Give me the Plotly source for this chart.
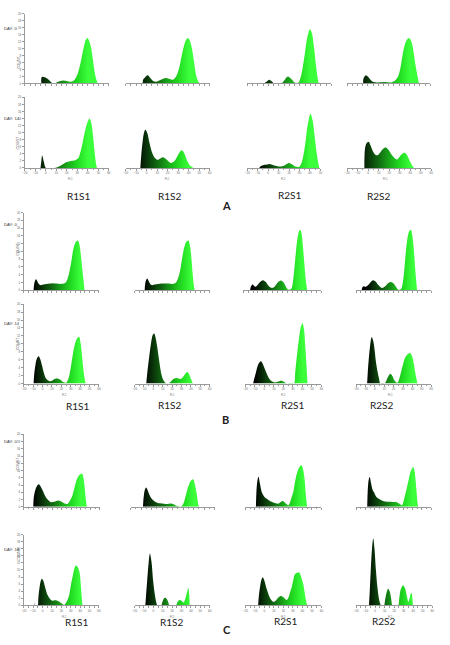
import plotly.graph_objects as go

# ---------------- data (x = FL1 value, y = COUNT) ----------------
SAMPLES = ["R1S1", "R1S2", "R2S1", "R2S2"]
DAYS = ["DAY: 0", "DAY: 14"]
PANELS = ["A", "B", "C"]
X_TITLE = "FL1"
X_RANGE = [-20, 60]
X_RANGE_SHORT = [-20, 50]   # panel A, day 14, R2S1 axis stops at 50
Y_RANGE = [0, 20]

# Panel A, day 0
A0_R1S1 = [(-4.2,0),(-3.8,1.9),(-1,1.8),(2,1.3),(4,0.7),(6,0.15),(9,0.1),(12,0.5),(16.5,0.85),(20,0.7),(24,0.5),(27,0.9),(30,2.5),(32,4.5),(34,7.2),(36,10.2),(38,12.5),(39.6,13.1),(41,12.5),(43,10.5),(45,6.5),(47,2.5),(48.5,0.8),(49.6,0)]
A0_R1S2 = [(-3.8,0),(-3.4,1.1),(-2,1.6),(1,2.4),(3.5,1.6),(6,0.8),(9,0.5),(13,1.0),(18.4,1.6),(22,1.3),(25,1.1),(28,2.0),(31,4.5),(33,7.5),(35.5,10.8),(37.5,12.6),(39.4,13.1),(41,12.4),(43,10.2),(45,6.5),(47,2.5),(48.5,1.0),(49.7,0.3),(50.5,0)]
A0_R2S1 = [(-4,0),(-2,0.4),(1,1.1),(3.5,0.6),(5.5,0),(12,0),(14.5,0.6),(18.6,2.0),(22,1.3),(25.5,0.2),(28.5,0.2),(31,2.0),(33,5),(35,9),(37,13),(39.6,15.6),(41.5,14.5),(43.5,10.5),(45.5,5),(47,1.5),(48,0)]
A0_R2S2 = [(-4.6,0),(-4.2,1.5),(-2,2.4),(0,2.0),(2.5,1.1),(5.5,0.4),(10,0.3),(16,0.4),(22,0.3),(26,0.8),(29,2.0),(31,4),(33,7.5),(35,10.5),(37.5,12.6),(39.8,13.1),(42,12),(44,9),(46,5),(48,1.8),(49.2,0)]
# Panel A, day 14
A14_R1S1 = [(-5,0),(-4,2.5),(-3.5,3.6),(-2,2.0),(-0.5,0.3),(0.5,0),(8,0),(11,0.2),(14,0.6),(17,1.2),(20,1.7),(24,2.0),(28,2.2),(31,2.8),(33,4.5),(35,7),(37,10),(39.5,12.8),(41.7,14.0),(43.5,12.5),(45,9),(46.5,4.5),(47.8,1.2),(48.7,0)]
A14_R1S2 = [(-6,0),(-5.3,3),(-4,7),(-2.5,10),(-1.2,10.8),(0.5,10),(2.8,7),(5,4.5),(7.5,3),(10.6,2.3),(13,2.7),(16,3.0),(19,2.4),(23,1.4),(26,1.8),(29,3.2),(31.5,4.5),(33.4,5.0),(35.5,4.4),(38,2.5),(40.5,1.0),(42.5,0.4),(44.4,0)]
A14_R2S1 = [(-8.5,0),(-8,0.3),(-5,0.8),(-1,1.0),(1.3,1.1),(5,0.8),(9,0.5),(12,0.4),(16,0.8),(19.8,1.4),(23,1.0),(26,0.4),(29.5,0.3),(32,1.5),(34,4),(36,8),(38,12.5),(40.5,15.4),(42.5,13.5),(44.5,9),(46.5,4),(48,1.2),(49,0)]
A14_R2S2 = [(-3.6,0),(-3,5.5),(-1.5,7.0),(0.5,7.4),(2.5,6.2),(4.9,4.5),(7,3.7),(9,3.6),(12,4.6),(14.5,5.5),(16.9,5.8),(19.5,5.1),(23,3.5),(27.2,2.4),(30,3.2),(32.5,4.0),(34.8,4.3),(37,3.7),(39,2.4),(41,1.2),(42.5,0.4),(43.6,0)]
# Panel B, day 0
B0_R1S1 = [(-9.5,0),(-9,1.5),(-7.8,2.6),(-6.8,2.8),(-5,2.0),(-3,1.4),(-1.6,1.3),(1,1.45),(4,1.6),(8,1.7),(11,1.8),(15,1.7),(19,1.6),(22.8,1.7),(25,2.1),(27,3.2),(29,5.2),(31,8),(33,10.8),(35.5,12.5),(37.7,12.8),(39.5,11.5),(41,8.5),(42.5,5),(43.8,2),(44.7,0)]
B0_R1S2 = [(-9.2,0),(-8.7,1.6),(-7.5,2.7),(-6.4,3.0),(-4.5,2.1),(-2.5,1.4),(-1.2,1.3),(1.5,1.45),(5,1.6),(9,1.7),(13,1.75),(17,1.7),(20,1.6),(22.4,1.7),(24.5,2.1),(26.5,3.2),(28.5,5),(30.5,8),(32.9,11),(35.2,12.5),(37.4,12.8),(39,11.5),(40.5,8.5),(41.8,4.5),(43,1.5),(44,0)]
B0_R2S1 = [(-13,0),(-12.5,0.7),(-11,1.4),(-10.2,1.5),(-8.5,1.0),(-7.5,0.9),(-5,1.5),(-2.5,2.2),(0.3,2.55),(3,2.1),(6,1.1),(9.4,0.6),(12,0.9),(15,1.9),(18.5,2.5),(21.5,1.9),(24,0.7),(26.3,0.1),(29,0.3),(31,2.5),(33,7.5),(35,12.5),(36.8,15),(38.1,15.6),(39.5,14.8),(41,11.5),(42.5,7),(44,2.5),(45.5,0)]
B0_R2S2 = [(-14,0),(-13.5,0.6),(-12,1.0),(-10.5,0.9),(-9,0.95),(-6,1.6),(-3.5,2.3),(-1.6,2.55),(1,2.2),(4,1.3),(7.8,0.6),(11,1.0),(14,1.8),(17.2,2.1),(20,1.7),(23,0.7),(25.2,0.1),(28,0.3),(30.4,3),(32.5,8.5),(34.5,13),(36.5,15.2),(38.4,15.6),(40,14),(41.5,10.5),(43,5.5),(44.2,2),(45,0)]
# Panel B, day 14
B14_R1S1 = [(-9.5,0),(-9,2),(-7.5,4.8),(-6,6.3),(-4.2,6.9),(-2.5,6.2),(-0.5,4.5),(1.5,2.6),(3.9,1.2),(7.4,0.6),(10.5,0.8),(13.5,1.2),(16.1,1.3),(19,1.0),(22,0.4),(25,0.2),(27.5,1.2),(30,4),(32,7),(34,9.5),(36.5,11.3),(38.9,11.8),(40.5,10.2),(42,7),(43.5,3.5),(45,1),(46,0)]
B14_R1S2 = [(-7.5,0),(-6.5,2.5),(-4.5,6.5),(-2.5,10),(-0.5,12.3),(0.9,12.6),(2.5,11.5),(4,9.5),(5.5,7),(7,4.5),(8.5,2.5),(10.5,1.0),(12.5,0.3),(15,0),(17,0.1),(19,0.6),(21,1.1),(24.2,1.4),(27,1.3),(29.4,1.2),(32,1.8),(34.5,2.6),(36.3,2.9),(38,2.4),(40,1.2),(41.5,0.4),(42.3,0)]
B14_R2S1 = [(-11.8,0),(-11,0.8),(-9,2.6),(-7,4.4),(-5.2,5.3),(-3.6,5.6),(-1.5,4.9),(0.9,3.5),(3.5,2.0),(6.1,1.0),(9,0.45),(11.3,0.3),(14,0.5),(17.6,0.75),(20.5,0.5),(23,0.1),(24,0),(31,0),(32.5,3),(34.5,7.5),(36.5,11.5),(38.5,14.4),(40.2,15.2),(41.8,13.5),(43,9.5),(44.3,4.5),(45.4,0)]
B14_R2S2 = [(-8.2,0),(-7.6,2.5),(-6.5,6),(-5,9.5),(-3.3,11.7),(-1.5,10.5),(0,8),(0.9,6),(2.5,3.5),(4.3,1.5),(6.1,0),(10.5,0),(12,0.6),(14.5,1.9),(16.5,2.5),(18.5,2.0),(21,0.8),(23,0.3),(24.2,0.2),(26,1.2),(28,3),(30,4.8),(32.2,6.5),(35,7.4),(37.4,7.7),(39.5,7),(41.5,5),(43,2.8),(44.5,1),(45.4,0)]
# Panel C, day 0
C0_R1S1 = [(-10,0),(-9.5,2.5),(-8,4.5),(-6,5.8),(-4.2,6.2),(-2,5.5),(-0.1,4.5),(2.5,3.0),(5.1,2.0),(8.5,1.3),(12,1.4),(16.4,1.75),(20,1.4),(23,0.9),(25.7,0.8),(28,1.5),(30.9,3.0),(33,5),(35,7),(37,8.3),(39,8.9),(41.2,9.2),(42.8,7.8),(44,5.5),(45,2.5),(46.3,0)]
C0_R1S2 = [(-8.2,0),(-7.6,2.5),(-6.5,4.6),(-5.3,5.3),(-4,4.8),(-2.5,3.6),(-0.6,2.5),(1.5,1.8),(4.1,1.3),(8,1.0),(12,0.85),(15,0.8),(18.2,0.9),(21,0.7),(23,0.4),(25.5,0.15),(27.6,0.05),(29.5,0.5),(31,1.5),(32.4,3),(34.5,5.2),(36.5,6.8),(38,7.4),(39.6,7.6),(41,6.5),(42.7,4),(44,1.5),(44.9,0)]
C0_R2S1 = [(-8.8,0),(-8.3,4),(-7.2,7.3),(-6.1,8.3),(-4.5,6.3),(-2.6,4.0),(0,2.8),(2.6,2.2),(6,1.6),(9.6,1.2),(12,1.0),(14.8,0.9),(17,1.3),(19.3,1.6),(21.5,1.2),(23.5,0.7),(25.2,0.4),(27,1.2),(28.5,2.5),(30.4,4),(32,6.5),(34,9),(36.5,10.8),(39.1,11.5),(41,10),(42.6,7),(43.7,3),(45,0)]
C0_R2S2 = [(-8.1,0),(-7.6,4),(-6.5,7.5),(-5.4,8.2),(-4,6.5),(-2.5,4.8),(-0.9,4),(1.5,2.8),(4.3,2.2),(8,1.7),(11.3,1.5),(15,1.4),(19,1.35),(23.5,1.3),(26,0.9),(28.7,0.4),(30.5,1.5),(32,3),(33.9,5),(36,7.5),(38.5,10),(40.9,11.0),(42.5,9.5),(43.5,7),(44.5,4),(45.3,1.5),(46.1,0)]
# Panel C, day 14
C14_R1S1 = [(-8.8,0),(-8.5,1.0),(-8.2,0),(-5.2,0),(-4.5,2),(-3.2,5),(-2,6.8),(-0.7,7.5),(1,6.8),(2.5,5.3),(3.9,4),(5.5,2.8),(7.4,2.0),(10.2,1.3),(12,1.35),(14.4,1.4),(17,1.1),(19.6,0.6),(21.5,0.3),(23.2,0.1),(26,1.2),(28.4,3),(30,5.5),(31.9,8),(33.5,10),(35.4,11.25),(37.5,10.8),(39.6,9),(40.8,5.5),(41.8,2),(42.5,0)]
C14_R1S2 = [(-8.5,0),(-7.8,2.5),(-6.5,7),(-5,12),(-3.65,14.7),(-2,12.5),(-0.2,7),(1.2,3.8),(2.3,2),(3.3,0.7),(4.3,0),(8.5,0),(9.5,0.8),(11,1.8),(12.7,2.1),(14.5,1.7),(16,0.8),(17.2,0),(24.2,0),(25.5,0.8),(27,1.35),(28.3,1.5),(30,1.25),(32.2,0.8),(34,1.8),(35.8,3.6),(37.4,4.9),(38.2,3),(38.8,0)]
C14_R2S1 = [(-6.5,0),(-5.8,2.5),(-4.5,5.2),(-3,7.2),(-1.6,7.9),(0.5,6.6),(2.6,4.5),(4.5,3),(6.1,2.0),(8,1.3),(9.6,1.0),(12,1.3),(14.5,2.1),(17.2,2.6),(20,2.3),(22,1.8),(23.5,1.5),(25.5,2.3),(27,3.6),(28.7,5),(30.5,7.2),(32.2,8.8),(34.5,9.2),(36.7,9.25),(38.5,8.2),(40.9,6),(42.5,3.5),(43.7,1.5),(45,0)]
C14_R2S2 = [(-6.4,0),(-5.6,4),(-4.5,10),(-3.2,16),(-1.9,18.9),(-0.6,16),(0.9,10),(2.5,5),(4,2),(5.2,0.6),(6.1,0),(9.4,0),(10.5,1.5),(12,3.5),(13.7,4.7),(15.5,3.8),(17,1.8),(18.3,0),(24.3,0),(25.3,1.8),(27,4.5),(29.4,5.7),(31.5,4.8),(33.5,2.5),(35,1.0),(36.3,2.0),(37.4,3.2),(38.4,3.5),(39.2,2),(39.8,0)]

CURVES = {
    ("A", 0): [A0_R1S1, A0_R1S2, A0_R2S1, A0_R2S2],
    ("A", 1): [A14_R1S1, A14_R1S2, A14_R2S1, A14_R2S2],
    ("B", 0): [B0_R1S1, B0_R1S2, B0_R2S1, B0_R2S2],
    ("B", 1): [B14_R1S1, B14_R1S2, B14_R2S1, B14_R2S2],
    ("C", 0): [C0_R1S1, C0_R1S2, C0_R2S1, C0_R2S2],
    ("C", 1): [C14_R1S1, C14_R1S2, C14_R2S1, C14_R2S2],
}

# ---------------- layout (pixels in the 450x645 page) ----------------
W, H = 450, 645
ROW_Y = {("A", 0): (12, 82), ("A", 1): (96, 167),
         ("B", 0): (212, 290), ("B", 1): (304, 384),
         ("C", 0): (435, 508), ("C", 1): (536, 607)}
COL_X = {("A", 0): [(22, 107), (124, 209), (247, 332), (348, 432)],
         ("A", 1): [(22, 107), (124, 209), (247, 321), (348, 433)],
         ("B", 0): [(21, 97), (133, 209), (243, 322), (357, 433)],
         ("B", 1): [(21, 97), (133, 209), (245, 322), (357, 433)],
         ("C", 0): [(21, 98), (129, 214), (245, 322), (357, 433)],
         ("C", 1): [(21, 97), (133, 209), (245, 322), (357, 434)]}
SHORT_AXIS = {("A", 1, 2)}
LABEL_POS = {"A": [(64, 188), (168, 188), (290, 187), (392, 188)],
             "B": [(63, 407), (168, 406), (293, 406), (395, 406)],
             "C": [(62, 631), (170, 631), (286, 630), (397, 630)]}
LETTER_POS = {"A": (226, 197), "B": (225, 420), "C": (227, 639)}
DAY_POS = {("A", 0): (0.5, 23), ("A", 1): (0.5, 114), ("B", 0): (0.5, 224),
           ("B", 1): (0.5, 324), ("C", 0): (0.5, 446), ("C", 1): (0.5, 554)}
COUNT_POS = {("A", 0): (12.5, 52), ("A", 1): (12.5, 133), ("B", 0): (12.5, 248),
             ("B", 1): (12.5, 343), ("C", 0): (12.5, 472), ("C", 1): (12.5, 563)}
XTITLE_GAP = 8.5   # px below the axis line

GREEN = [[0.0, "#000000"], [0.2, "#0a360a"], [0.4, "#116b11"],
         [0.6, "#19a819"], [0.8, "#22dc22"], [1.0, "#3cff3c"]]
AXC = "#9a9a9a"


def px(x):
    return x / W


def py(y):
    return 1 - y / H


fig = go.Figure()
layout = {}
annotations = []
k = 0
for p in PANELS:
    for r in range(2):
        top, base = ROW_Y[(p, r)]
        for c in range(4):
            k += 1
            x0, x1 = COL_X[(p, r)][c]
            pts = CURVES[(p, r)][c]
            xs = [a for a, b in pts]
            ys = [b for a, b in pts]
            fig.add_trace(go.Scatter(
                x=xs, y=ys, mode="lines",
                line=dict(width=0, shape="spline", smoothing=0.9),
                fill="tozeroy",
                fillgradient=dict(type="horizontal", start=-10, stop=40, colorscale=GREEN),
                xaxis=f"x{k}", yaxis=f"y{k}", hoverinfo="skip", showlegend=False))
            xr = X_RANGE_SHORT if (p, r, c) in SHORT_AXIS else X_RANGE
            xa = dict(domain=[px(x0), px(x1)], range=xr, anchor=f"y{k}",
                      showgrid=False, zeroline=False, showline=True, linecolor=AXC,
                      linewidth=0.8, ticks="outside", ticklen=2, tickwidth=0.6,
                      tickcolor=AXC, tick0=-20, dtick=10,
                      minor=dict(ticks="outside", ticklen=1.5, dtick=5, tickcolor=AXC, tickwidth=0.5),
                      showticklabels=(r == 1),
                      tickfont=dict(size=3, color="#666", family="Liberation Sans"))
            if r == 1:
                annotations.append(dict(x=px((x0 + x1) / 2), y=py(base + XTITLE_GAP),
                                        xref="paper", yref="paper", yanchor="top",
                                        text=X_TITLE, showarrow=False, borderpad=0,
                                        font=dict(size=2.6, color="#666", family="Liberation Sans")))
            ya = dict(domain=[py(base), py(top)], range=Y_RANGE, anchor=f"x{k}",
                      showgrid=False, zeroline=False)
            if c == 0:
                ya.update(showline=True, linecolor=AXC, linewidth=0.8, ticks="outside",
                          ticklen=2, tickwidth=0.6, tickcolor=AXC, dtick=2,
                          tickfont=dict(size=3, color="#666", family="Liberation Sans"))
            else:
                ya.update(visible=False)
            layout[f"xaxis{k}"] = xa
            layout[f"yaxis{k}"] = ya
        dx, dy = DAY_POS[(p, r)]
        annotations.append(dict(x=px(dx), y=py(dy), xref="paper", yref="paper",
                                xanchor="left", text=DAYS[r], showarrow=False, borderpad=0,
                                font=dict(size=4.2, color="#333", family="Liberation Sans")))
        cx, cy = COUNT_POS[(p, r)]
        annotations.append(dict(x=px(cx), y=py(cy), xref="paper", yref="paper",
                                text="COUNT", textangle=-90, showarrow=False, borderpad=0,
                                font=dict(size=3.6, color="#555", family="Liberation Sans")))
    for c, s in enumerate(SAMPLES):
        lx, ly = LABEL_POS[p][c]
        annotations.append(dict(x=px(lx), y=py(ly), xref="paper", yref="paper",
                                text=s, showarrow=False, borderpad=0,
                                font=dict(size=10, color="#222", family="Lato")))
    ax_, ay_ = LETTER_POS[p]
    annotations.append(dict(x=px(ax_), y=py(ay_), xref="paper", yref="paper",
                            text=f"<b>{p}</b>", showarrow=False, borderpad=0,
                            font=dict(size=11, color="#222", family="Lato")))

fig.update_layout(width=W, height=H, autosize=False,
                  margin=dict(l=0, r=0, t=0, b=0),
                  paper_bgcolor="white", plot_bgcolor="white",
                  annotations=annotations, **layout)
fig.write_html("out.html")
